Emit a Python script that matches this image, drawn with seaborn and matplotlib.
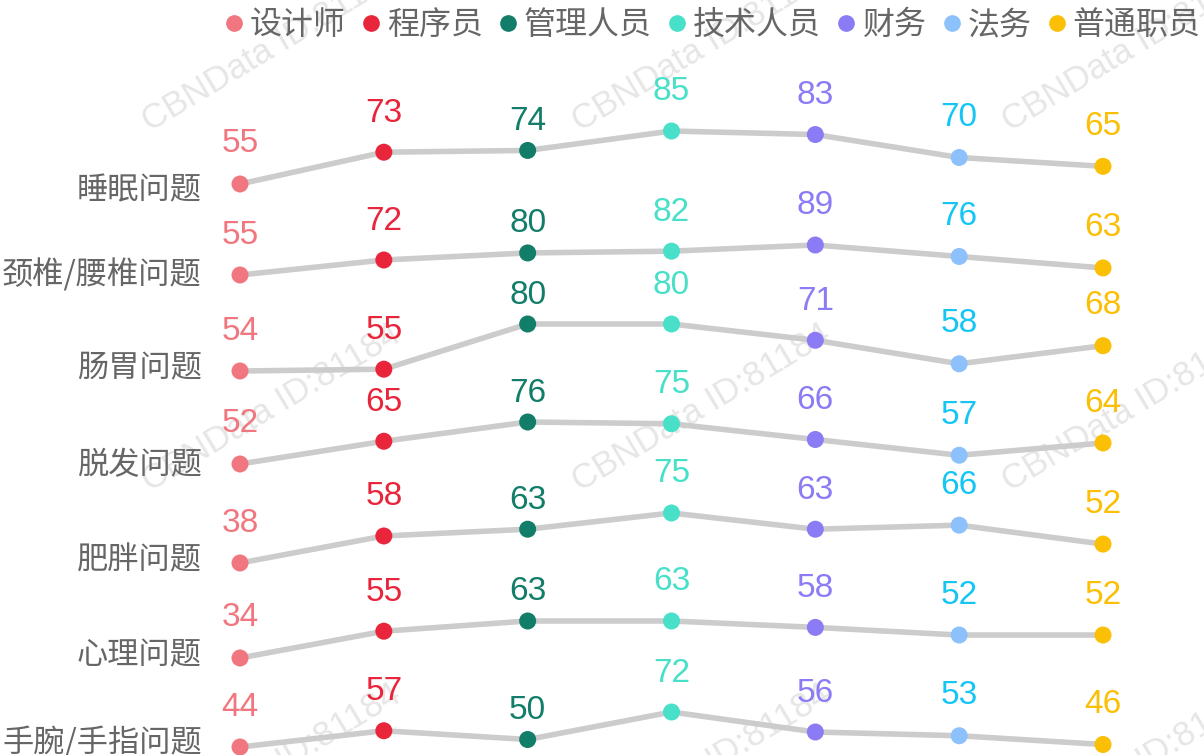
import pandas as pd
import seaborn as sns
import matplotlib.pyplot as plt
from matplotlib.lines import Line2D

# job groups (columns) and health issues (rows)
jobs = ["设计师", "程序员", "管理人员", "技术人员", "财务", "法务", "普通职员"]
issues = ["睡眠问题", "颈椎/腰椎问题", "肠胃问题", "脱发问题", "肥胖问题", "心理问题", "手腕/手指问题"]

sleep = [55, 73, 74, 85, 83, 70, 65]
neck_back = [55, 72, 80, 82, 89, 76, 63]
stomach = [54, 55, 80, 80, 71, 58, 68]
hair_loss = [52, 65, 76, 75, 66, 57, 64]
obesity = [38, 58, 63, 75, 63, 66, 52]
mental = [34, 55, 63, 63, 58, 52, 52]
wrist = [44, 57, 50, 72, 56, 53, 46]

dot_colors = ["#f0777f", "#e8253a", "#127d69", "#48e0c8", "#8b7bf5", "#8dc1fb", "#fbbf05"]
label_colors = ["#f0777f", "#e8253a", "#127d69", "#48e0c8", "#8b7bf5", "#15c6f4", "#fbbf05"]

# layout: pixel band of each row (top = row max, bottom = row min), row label centres
row_top_px = [131, 245, 324, 422, 513, 621, 712]
row_bottom_px = [184, 275, 371, 464, 563, 658, 747]
label_y_px = [190, 275, 368, 465, 560, 655, 743]
# how far each column's value label sits above its dot
label_lift_px = [40, 39, 29, 39, 39, 40, 40]

W, H = 1204, 755
X0, X1 = 240, 1103

rows = [sleep, neck_back, stomach, hair_loss, obesity, mental, wrist]
df = pd.DataFrame(
    [(issue, job, v) for issue, vals in zip(issues, rows) for job, v in zip(jobs, vals)],
    columns=["issue", "job", "value"],
)

sns.set_theme(style="white")
plt.rcParams["font.family"] = ["Noto Sans CJK SC", "DejaVu Sans"]
plt.rcParams["axes.unicode_minus"] = False

fig = plt.figure(figsize=(W / 100, H / 100), dpi=100)
fig.patch.set_facecolor("white")

# faint watermark tiles
for i in range(-1, 3):
    for j in range(0, 3):
        fig.text((150 + 430 * i) / W, 1 - (132 + 360 * j) / H, "CBNData ID:81184",
                 rotation=31, rotation_mode="anchor", ha="left", va="baseline",
                 fontsize=25, color="#e6e6e6", family=["Liberation Sans"], zorder=-5)

for k, issue in enumerate(issues):
    top, bot = row_top_px[k], row_bottom_px[k]
    ax = fig.add_axes([X0 / W, 1 - bot / H, (X1 - X0) / W, (bot - top) / H])
    ax.patch.set_alpha(0)
    sub = df[df["issue"] == issue]
    sns.lineplot(data=sub, x="job", y="value", sort=False, color="#cccccc", lw=4,
                 errorbar=None, ax=ax, clip_on=False, zorder=1)
    sns.scatterplot(data=sub, x="job", y="value", hue="job", palette=dot_colors,
                    s=150, linewidth=0, legend=False, ax=ax, clip_on=False, zorder=2)
    for i, v in enumerate(sub["value"]):
        ax.annotate(str(v), (i, v), xytext=(0, label_lift_px[i]), textcoords="offset pixels",
                    ha="center", va="center", fontsize=24, color=label_colors[i],
                    family=["Liberation Sans"], annotation_clip=False)
    ax.set_xlim(0, 6)
    ax.set_ylim(min(sub["value"]), max(sub["value"]))
    ax.set_axis_off()
    fig.text(202 / W, 1 - label_y_px[k] / H, issue, ha="right", va="center",
             fontsize=22.5, color="#666666")

handles = [Line2D([], [], marker="o", ls="", color=c, markersize=11) for c in dot_colors]
fig.legend(handles, jobs, loc="upper right", bbox_to_anchor=(1.0, 1 - 6 / H), ncol=7,
           frameon=False, fontsize=23, handlelength=0.5, handletextpad=0.25,
           columnspacing=0.54, borderaxespad=0, borderpad=0.1, labelcolor="#666666")

fig.savefig("out.png", dpi=100, facecolor="white")
